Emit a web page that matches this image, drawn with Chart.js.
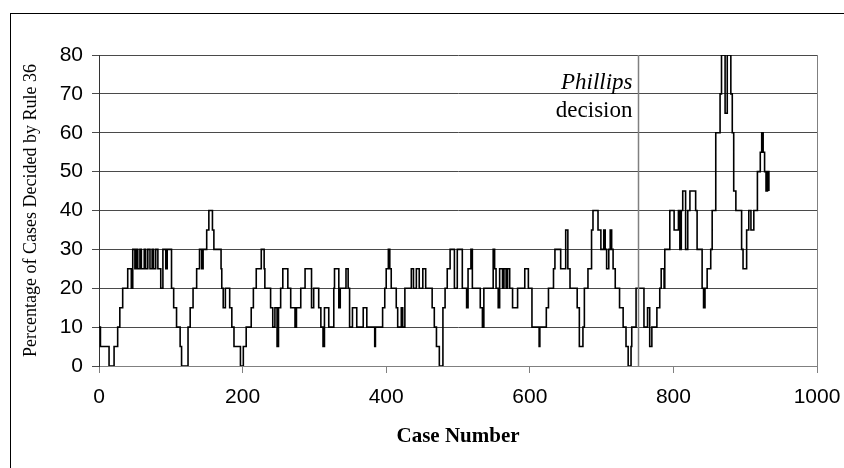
<!DOCTYPE html>
<html>
<head>
<meta charset="utf-8">
<script src="https://cdn.jsdelivr.net/npm/chart.js@4.4.0/dist/chart.umd.min.js"></script>
<style>
html, body { margin: 0; padding: 0; background: #fff; }
#chart_wrap { position: relative; width: 844px; height: 468px; overflow: hidden; }
#chart_frame { position: absolute; left: 10px; top: 13px; width: 900px; height: 500px; border-left: 1px solid #000; border-top: 1px solid #000; }
#rule_chart { position: absolute; left: 0; top: 0; }
</style>
</head>
<body>
<div id="chart_wrap">
    <div id="chart_frame"></div>
    <canvas id="rule_chart" width="844" height="468"></canvas>
</div>
<script>
// each entry starts a run: the share holds until the next case number
const case_starts = [
    0, 2, 14, 21, 26, 29, 33, 40, 45, 47, 50, 52, 54, 57, 59, 63, 65, 68, 71, 74,
    76, 79, 82, 86, 89, 93, 95, 101, 104, 108, 113, 115, 124, 127, 131, 136, 140, 143, 145, 150,
    153, 158, 160, 170, 171, 173, 176, 182, 185, 188, 197, 201, 205, 212, 215, 219, 224, 226, 230, 231,
    239, 242, 245, 248, 250, 253, 256, 263, 267, 273, 275, 281, 287, 296, 299, 306, 309, 312, 314, 320,
    327, 328, 334, 336, 344, 347, 349, 353, 359, 368, 373, 384, 385, 395, 398, 400, 403, 405, 407, 414,
    416, 421, 423, 426, 435, 438, 442, 446, 451, 455, 464, 467, 470, 474, 479, 482, 485, 489, 495, 499,
    506, 512, 514, 518, 520, 531, 534, 536, 549, 551, 553, 556, 558, 562, 564, 567, 569, 572, 576, 583,
    593, 598, 603, 613, 614, 623, 626, 633, 635, 643, 650, 653, 656, 666, 669, 674, 676, 681, 686, 688,
    695, 699, 703, 705, 707, 710, 712, 714, 716, 719, 725, 730, 734, 737, 741, 742, 748, 759, 764, 767,
    770, 777, 781, 783, 787, 788, 795, 801, 807, 809, 811, 813, 817, 820, 823, 831, 833, 840, 842, 844,
    847, 852, 854, 859, 865, 867, 872, 875, 880, 882, 884, 887, 895, 897, 902, 905, 908, 912, 917, 921,
    923, 925, 927, 929, 931, 933
];
const rule_pct = [
    10, 5, 0, 5, 10, 15, 20, 25, 20, 30, 25, 30, 25, 30, 25, 30, 25, 30, 25, 30,
    25, 30, 25, 20, 30, 25, 30, 20, 15, 10, 5, 0, 10, 15, 20, 25, 30, 25, 30, 35,
    40, 35, 30, 25, 20, 15, 20, 15, 10, 5, 0, 5, 10, 15, 20, 25, 25, 30, 25, 20,
    15, 10, 15, 5, 15, 20, 25, 20, 15, 10, 15, 20, 25, 15, 20, 15, 10, 5, 15, 10,
    20, 25, 15, 20, 25, 20, 10, 15, 10, 15, 10, 5, 10, 15, 20, 25, 30, 25, 20, 15,
    10, 15, 10, 20, 25, 20, 25, 20, 25, 20, 15, 10, 5, 0, 15, 20, 25, 30, 20, 30,
    20, 15, 25, 30, 20, 15, 10, 20, 30, 25, 20, 15, 25, 20, 25, 20, 25, 20, 15, 20,
    25, 20, 10, 5, 10, 15, 20, 25, 30, 25, 35, 25, 20, 15, 5, 10, 20, 25, 35, 40,
    35, 30, 35, 30, 25, 30, 35, 30, 25, 20, 15, 10, 5, 0, 5, 10, 20, 10, 15, 5,
    10, 15, 20, 25, 20, 30, 40, 35, 40, 30, 40, 45, 30, 40, 45, 40, 30, 20, 15, 20,
    25, 30, 40, 60, 70, 80, 65, 80, 70, 60, 45, 40, 30, 25, 35, 40, 35, 40, 50, 55,
    60, 55, 50, 45, 50, 45
];
const x_tick_values = [0, 200, 400, 600, 800, 1000];
const y_tick_values = [0, 10, 20, 30, 40, 50, 60, 70, 80];
const phillips_case = 750;
const phillips_label = ['Phillips', 'decision'];
const x_title = 'Case Number';
const y_title = 'Percentage of Cases Decided by Rule 36';

const rule_palette = {
    line: '#000000',
    grid: '#4a4a4a',
    border: '#808080',
    text: '#000000',
};

const sans_font = '"Liberation Sans", Arial, sans-serif';
const serif_font = '"Liberation Serif", "Times New Roman", serif';

function rule_points() {
    return case_starts.map(function (case_no, idx) {
        return { x: case_no, y: rule_pct[idx] };
    });
}

function fixed_ticks(values) {
    return function (scale) {
        scale.ticks = values.map(function (v) {
            return { value: v };
        });
    };
}

function plain_label(value) {
    return String(value);
}

const plot_frame = {
    id: 'plot_frame',
    afterDatasetsDraw(chart) {
        const { ctx, chartArea, scales } = chart;
        const px = Math.round(scales.x.getPixelForValue(phillips_case)) + 0.5;

        ctx.save();
        ctx.strokeStyle = rule_palette.border;
        ctx.lineWidth = 1;
        ctx.beginPath();
        ctx.moveTo(Math.round(chartArea.right) + 0.5, chartArea.top);
        ctx.lineTo(Math.round(chartArea.right) + 0.5, chartArea.bottom);
        ctx.stroke();

        ctx.lineWidth = 1.5;
        ctx.beginPath();
        ctx.moveTo(px, chartArea.top);
        ctx.lineTo(px, chartArea.bottom);
        ctx.stroke();

        ctx.fillStyle = rule_palette.text;
        ctx.textAlign = 'right';
        ctx.textBaseline = 'alphabetic';
        ctx.font = 'italic 23px ' + serif_font;
        ctx.fillText(phillips_label[0], px - 6, chartArea.top + 34);
        ctx.font = '23px ' + serif_font;
        ctx.fillText(phillips_label[1], px - 6, chartArea.top + 62);
        ctx.restore();
    },
};

function draw_rule_chart() {
    const canvas = document.getElementById('rule_chart');
    if (!canvas || typeof Chart === 'undefined') {
        return;
    }

    new Chart(canvas.getContext('2d'), {
        type: 'line',
        data: {
            datasets: [
                {
                    label: 'Rule 36 share',
                    data: rule_points(),
                    borderColor: rule_palette.line,
                    borderWidth: 1.6,
                    stepped: true,
                    pointRadius: 0,
                    fill: false,
                },
            ],
        },
        options: {
            responsive: false,
            animation: false,
            devicePixelRatio: 1,
            layout: { padding: { left: 0, right: 27, top: 55, bottom: 0 } },
            plugins: {
                legend: { display: false },
                tooltip: { enabled: false },
            },
            scales: {
                x: {
                    type: 'linear',
                    min: 0,
                    max: 1000,
                    afterBuildTicks: fixed_ticks(x_tick_values),
                    afterFit: function (scale) {
                        scale.height = 102;
                        scale.paddingLeft = 0;
                        scale.paddingRight = 0;
                    },
                    grid: { drawOnChartArea: false, drawTicks: true, tickLength: 7, tickColor: rule_palette.border },
                    border: { color: rule_palette.border, width: 1 },
                    ticks: { color: rule_palette.text, padding: 12, maxRotation: 0, callback: plain_label, font: { family: sans_font, size: 21 } },
                    title: {
                        display: true,
                        text: x_title,
                        color: rule_palette.text,
                        padding: { top: 0, bottom: 19 },
                        font: { family: serif_font, size: 21, weight: 'bold' },
                    },
                },
                y: {
                    type: 'linear',
                    min: 0,
                    max: 80,
                    afterBuildTicks: fixed_ticks(y_tick_values),
                    afterFit: function (scale) {
                        scale.width = 99;
                        scale.paddingTop = 0;
                        scale.paddingBottom = 0;
                    },
                    grid: { color: rule_palette.grid, lineWidth: 1, drawTicks: true, tickLength: 7, tickColor: rule_palette.grid },
                    border: { color: '#333333', width: 1 },
                    ticks: { color: rule_palette.text, padding: 9, callback: plain_label, font: { family: sans_font, size: 21 } },
                    title: {
                        display: true,
                        text: y_title,
                        color: rule_palette.text,
                        padding: { top: 20, bottom: 0 },
                        font: { family: serif_font, size: 18 },
                    },
                },
            },
        },
        plugins: [plot_frame],
    });
}

draw_rule_chart();
</script>
</body>
</html>
